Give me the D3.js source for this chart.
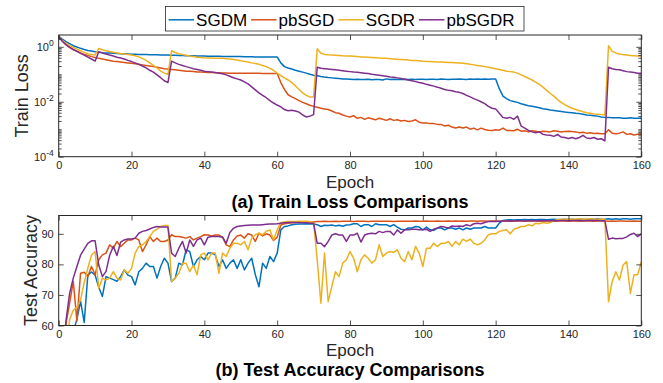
<!DOCTYPE html>
<html>
<head>
<meta charset="utf-8">
<script src="https://cdn.jsdelivr.net/npm/d3@7"></script>
<style>
  body { margin: 0; background: #fff; }
  text { font-family: "Liberation Sans", Arial, Helvetica, sans-serif; }
</style>
</head>
<body>
<svg id="svg1" width="663" height="383"></svg>
<script>
// ---- data ----
var epochs = d3.range(0, 161);
var seriesNames = ['SGDM', 'pbSGD', 'SGDR', 'pbSGDR'];
var seriesColors = ['#0072BD', '#D95319', '#EDB120', '#7E2F8E'];
var epochTicks = [0, 20, 40, 60, 80, 100, 120, 140, 160];
var lossTicks = [1e-4, 1e-2, 1];
var accTicks = [60, 70, 80, 90];

var lossSGDM = [
  2.4, 1.9, 1.55, 1.3, 1.1, 0.98, 0.88, 0.8, 0.74, 0.7,
  0.66, 0.63, 0.61, 0.6, 0.59, 0.58, 0.57, 0.56, 0.55, 0.545,
  0.54, 0.535, 0.53, 0.525, 0.52, 0.515, 0.51, 0.51, 0.505, 0.5,
  0.5, 0.495, 0.49, 0.485, 0.48, 0.475, 0.47, 0.47, 0.465, 0.46,
  0.46, 0.455, 0.455, 0.45, 0.45, 0.445, 0.445, 0.44, 0.44, 0.44,
  0.44, 0.435, 0.435, 0.435, 0.43, 0.43, 0.43, 0.43, 0.43, 0.43,
  0.43, 0.26, 0.19, 0.17, 0.155, 0.14, 0.13, 0.12, 0.11, 0.1,
  0.093, 0.088, 0.083, 0.079, 0.076, 0.074, 0.072, 0.07, 0.068, 0.067,
  0.066, 0.065, 0.066, 0.064, 0.065, 0.066, 0.063, 0.064, 0.065, 0.062,
  0.068, 0.064, 0.066, 0.065, 0.065, 0.066, 0.064, 0.066, 0.065, 0.066,
  0.066, 0.065, 0.066, 0.066, 0.065, 0.067, 0.066, 0.065, 0.066, 0.066,
  0.067, 0.066, 0.065, 0.067, 0.066, 0.067, 0.066, 0.067, 0.066, 0.067,
  0.067, 0.03, 0.016, 0.013, 0.011, 0.0102, 0.0095, 0.0085, 0.0078, 0.0072,
  0.0068, 0.0064, 0.006, 0.0056, 0.0053, 0.005, 0.0048, 0.0046, 0.0044, 0.0042,
  0.0041, 0.004, 0.0038, 0.0037, 0.0035, 0.0033, 0.0032, 0.0031, 0.003, 0.0028,
  0.0027, 0.0027, 0.0026, 0.0026, 0.0026, 0.0025, 0.0025, 0.0026, 0.0025, 0.0025,
  0.0025
];
var lossPbSGD = [
  2.4, 1.6, 1.2, 0.95, 0.8, 0.7, 0.6, 0.53, 0.48, 0.44,
  0.41, 0.38, 0.36, 0.34, 0.32, 0.3, 0.29, 0.28, 0.27, 0.26,
  0.25, 0.24, 0.23, 0.22, 0.21, 0.2, 0.19, 0.18, 0.17, 0.16,
  0.155, 0.15, 0.145, 0.14, 0.135, 0.13, 0.128, 0.125, 0.122, 0.12,
  0.118, 0.116, 0.115, 0.114, 0.113, 0.112, 0.111, 0.11, 0.11, 0.11,
  0.11, 0.109, 0.109, 0.108, 0.108, 0.108, 0.107, 0.107, 0.107, 0.106,
  0.106, 0.05, 0.028, 0.018, 0.015, 0.013, 0.011, 0.0095, 0.0085, 0.0075,
  0.0068, 0.0063, 0.0058, 0.0055, 0.0052, 0.0046, 0.004, 0.0038, 0.0033, 0.003,
  0.0028, 0.0031, 0.0025, 0.0027, 0.0023, 0.0026, 0.0024, 0.0022, 0.0025, 0.0023,
  0.0021, 0.0024, 0.0021, 0.0022, 0.002, 0.0021, 0.0019, 0.002, 0.0022, 0.0018,
  0.0017, 0.0017, 0.0016, 0.0016, 0.0015, 0.0015, 0.0013, 0.0014, 0.0012, 0.0011,
  0.0012, 0.0011, 0.0012, 0.001, 0.0011, 0.00095, 0.0011, 0.00098, 0.00092, 0.0009,
  0.00095, 0.00092, 0.0011, 0.0009, 0.0009, 0.00088, 0.001, 0.00085, 0.00088, 0.0008,
  0.00088, 0.00085, 0.0008, 0.00085, 0.00083, 0.0008, 0.00088, 0.00085, 0.0008, 0.00083,
  0.00085, 0.00082, 0.0008, 0.00075, 0.00078, 0.00072, 0.00075, 0.0007, 0.00072, 0.00068,
  0.00068, 0.00095, 0.00072, 0.00068, 0.00072, 0.0008, 0.00065, 0.00068, 0.00062, 0.00066,
  0.00065
];
var lossSGDR = [
  2.4, 1.7, 1.35, 1.1, 0.95, 0.82, 0.72, 0.63, 0.56, 0.52,
  0.5, 0.87, 0.78, 0.72, 0.67, 0.63, 0.6, 0.57, 0.55, 0.52,
  0.5, 0.47, 0.43, 0.38, 0.32, 0.26, 0.21, 0.17, 0.13, 0.11,
  0.1, 0.72, 0.62, 0.56, 0.52, 0.49, 0.46, 0.44, 0.42, 0.41,
  0.4, 0.395, 0.39, 0.385, 0.38, 0.38, 0.37, 0.36, 0.345, 0.33,
  0.31, 0.295, 0.28, 0.26, 0.245, 0.23, 0.21, 0.19, 0.165, 0.14,
  0.11, 0.09, 0.074, 0.062, 0.05, 0.038, 0.028, 0.021, 0.017, 0.015,
  0.015, 0.85, 0.58, 0.53, 0.51, 0.5, 0.49, 0.48, 0.47, 0.465,
  0.46, 0.45, 0.44, 0.43, 0.425, 0.42, 0.41, 0.4, 0.39, 0.385,
  0.38, 0.37, 0.36, 0.35, 0.345, 0.34, 0.33, 0.32, 0.315, 0.31,
  0.3, 0.295, 0.29, 0.285, 0.28, 0.28, 0.275, 0.27, 0.27, 0.265,
  0.26, 0.25, 0.24, 0.23, 0.22, 0.21, 0.2, 0.19, 0.18, 0.17,
  0.16, 0.15, 0.14, 0.13, 0.125, 0.12, 0.11, 0.095, 0.083, 0.072,
  0.062, 0.052, 0.043, 0.034, 0.026, 0.02, 0.016, 0.012, 0.0095, 0.0078,
  0.0066, 0.0058, 0.0052, 0.0047, 0.0043, 0.004, 0.0038, 0.0036, 0.0035, 0.0034,
  0.0033, 1.1, 0.68, 0.6, 0.55, 0.52, 0.5, 0.48, 0.47, 0.46,
  0.46
];
var lossPbSGDR = [
  2.4, 1.6, 1.2, 0.95, 0.8, 0.68, 0.58, 0.5, 0.42, 0.36,
  0.3, 0.66, 0.6, 0.55, 0.5, 0.46, 0.42, 0.39, 0.36, 0.32,
  0.29, 0.26, 0.23, 0.2, 0.17, 0.14, 0.12, 0.095, 0.075, 0.058,
  0.05, 0.3, 0.26, 0.23, 0.21, 0.19, 0.175, 0.16, 0.15, 0.14,
  0.13, 0.125, 0.12, 0.115, 0.11, 0.105, 0.095, 0.085, 0.075, 0.068,
  0.062, 0.053, 0.045, 0.035, 0.027, 0.021, 0.017, 0.014, 0.011, 0.009,
  0.0076, 0.0065, 0.0052, 0.0047, 0.0049, 0.0046, 0.0042, 0.0033, 0.0028, 0.003,
  0.0034, 0.18, 0.165, 0.16, 0.155, 0.15, 0.145, 0.14, 0.135, 0.13,
  0.125, 0.12, 0.118, 0.114, 0.11, 0.106, 0.1, 0.096, 0.092, 0.088,
  0.084, 0.08, 0.078, 0.074, 0.07, 0.066, 0.062, 0.058, 0.054, 0.05,
  0.047, 0.043, 0.04, 0.037, 0.034, 0.031, 0.028, 0.026, 0.025, 0.023,
  0.022, 0.02, 0.017, 0.015, 0.013, 0.0115, 0.01, 0.0085, 0.0068, 0.0058,
  0.0055, 0.0038, 0.0027, 0.0025, 0.0027, 0.0023, 0.003, 0.0013, 0.0011, 0.0009,
  0.0008, 0.00075, 0.0008, 0.00065, 0.00062, 0.0006, 0.00055, 0.00065, 0.00052, 0.0005,
  0.00046, 0.0005, 0.00045, 0.0005, 0.0006, 0.00048, 0.00046, 0.0005, 0.00043, 0.00045,
  0.00038, 0.18, 0.16, 0.15, 0.145, 0.135, 0.125, 0.12, 0.115, 0.11,
  0.11
];

var accSGDM = [
  15, 30, 45, 52, 58, 62, 68, 61, 76.5, 77.5,
  76.5, 72.5, 69.5, 76, 75.5, 75, 74.5, 76, 78.2, 76.5,
  76, 73.3, 77.6, 78.7, 80.4, 79.3, 79.3, 75.5, 79.3, 82,
  80.4, 74.4, 75.5, 80.4, 79.8, 84.8, 84.2, 79.3, 81.5, 82.6,
  81.5, 83.7, 83.7, 83.1, 79.3, 81.5, 78.7, 80.4, 81.5, 78.7,
  81.5, 78.2, 80.4, 82, 76.6, 72.7, 80.4, 78.7, 82.6, 80.9,
  83.7, 91.3, 92.4, 92.6, 93, 93.1, 93.2, 93.2, 93.3, 93.2,
  93.2, 93, 92.4, 92.8, 92.7, 92.9, 92.6, 92.8, 92.5, 92.9,
  93, 93.3, 93.3, 92.4, 93, 93, 92.4, 93.3, 93, 93,
  93, 92.4, 93, 92.2, 91.5, 91.3, 91.9, 91.9, 92.4, 92.2,
  91.3, 92.2, 91.3, 91.1, 91.9, 91.9, 91.3, 91.9, 91.9, 91.5,
  91.9, 91.3, 91.9, 91.5, 91.9, 91.9, 91.9, 92.4, 91.9, 91.9,
  91.9, 93.5, 94.4, 94.5, 94.6, 94.5, 94.6, 94.6, 94.7, 94.6,
  94.7, 94.6, 94.7, 94.7, 94.6, 94.7, 94.8, 94.7, 94.7, 94.8,
  94.7, 94.8, 94.7, 94.8, 94.8, 94.7, 94.8, 94.8, 94.9, 94.8,
  94.8, 94.9, 94.8, 94.9, 94.8, 94.9, 94.9, 94.8, 94.9, 94.9,
  94.9
];
var accPbSGD = [
  25, 45, 60.5, 67.3, 74.4, 61.5, 77.1, 77.4, 76, 79.3,
  76.6, 81.5, 83.1, 83.7, 86.4, 85.3, 87.5, 85.8, 86.9, 88,
  88, 88.6, 88, 84.2, 86.4, 89.1, 87.5, 88.6, 87.5, 87.5,
  88, 89.7, 89.1, 89.1, 88.9, 88.6, 89.1, 88, 88.6, 89.1,
  89.7, 89.6, 89.3, 89.6, 89.6, 88.9, 86.4, 85.8, 88, 89.3,
  89.6, 88.6, 90, 89.6, 87.5, 90.2, 89.3, 90, 89.6, 87.8,
  88.9, 92.9, 93.3, 93.5, 93.6, 93.7, 93.8, 93.8, 93.9, 93.9,
  93.9, 94, 94, 94.1, 94, 94, 94.1, 94, 94.1, 94.1,
  94.1, 94, 94.1, 94.1, 94.1, 94, 94.1, 94.1, 94.1, 94.1,
  94.1, 94.1, 94, 94.1, 94.1, 94.1, 94.1, 94.1, 94.2, 94.1,
  94.1, 94.2, 94.1, 94.1, 94.2, 94.1, 94.1, 94.2, 94.1, 94.2,
  94.1, 94.2, 94.1, 94.2, 94.2, 94.1, 94.2, 94.2, 94.1, 94.2,
  94.2, 94.1, 94.2, 94.2, 94.1, 94.2, 94.2, 94.2, 94.1, 94.2,
  94.2, 94.2, 94.1, 94.2, 94.2, 94.2, 94.1, 94.2, 94.2, 94.2,
  94.1, 94.2, 94.2, 94.1, 94.2, 94.2, 94.2, 94.1, 94.2, 94.2,
  94.2, 94.1, 94.2, 94.1, 94.2, 94.2, 94.1, 94.1, 94.2, 94.1,
  94.1
];
var accSGDR = [
  20, 40, 52, 62, 65, 66, 68.4, 74, 78.8, 83,
  84.2, 72.2, 75.5, 74.9, 75.5, 77.6, 75.5, 74.9, 78.2, 77.1,
  78.7, 83.7, 85.9, 86.4, 87.5, 89.1, 90.8, 91.5, 92.4, 92.7,
  92.7, 74.4, 75.5, 77.1, 80.4, 80.4, 77.6, 79.8, 76.6, 83.1,
  83.7, 81.5, 83.7, 83.7, 77.1, 83.7, 82.6, 85.3, 86.9, 86.9,
  86.4, 87.5, 84.8, 88.6, 89.7, 90.2, 89.7, 90.8, 91.3, 88,
  91.3, 93.7, 93.9, 94, 94, 94, 94.1, 94.1, 94.1, 94,
  93.7, 81.5, 67.3, 83.7, 67.8, 72.7, 77.6, 76, 80.4, 81.5,
  84.2, 82, 77.6, 81.5, 83.1, 82, 80.4, 81.5, 86.4, 82.6,
  83.7, 84.2, 83.9, 84.8, 82, 80.9, 84.2, 81.5, 85.9, 83.7,
  79.3, 85.3, 85.3, 86.9, 85.9, 86.9, 86.9, 87.5, 85.9, 87.5,
  86.4, 88.3, 87.5, 88.3, 86.9, 86.4, 86.9, 88, 89.7, 90,
  90, 90.8, 91.1, 91.3, 90, 91.5, 91.9, 92.4, 92.4, 93,
  92.6, 93.5, 93.3, 93.7, 93.5, 93.7, 94.4, 94.6, 94.7, 94.8,
  94.8, 94.8, 94.8, 94.9, 94.8, 94.8, 94.9, 94.8, 94.8, 94.8,
  94.8, 67.8, 74.4, 77.6, 74.9, 79.8, 80.9, 70.5, 76.6, 76.6,
  80.9
];
var accPbSGDR = [
  30, 50, 61.5, 70.5, 75.5, 79.3, 83, 85, 86.9, 87.7,
  87.7, 79.8, 76, 77.7, 83, 85.9, 82.9, 87.3, 88, 88.3,
  88.3, 88.6, 90.2, 90.8, 91.1, 91.6, 92.1, 92.4, 92.2, 92.2,
  92.2, 83.7, 82.6, 85.3, 87.5, 83.7, 88, 85.9, 88, 88.6,
  86.4, 88.9, 89.1, 89.1, 89.1, 88.9, 86.9, 90.4, 91.8, 92.4,
  92.6, 92.7, 92.8, 92.9, 92.9, 92.9, 93, 93.1, 93.2, 93.2,
  93.3, 93.5, 93.6, 93.7, 93.7, 93.7, 93.7, 93.6, 93.6, 93.5,
  93.5, 86.9, 86.9, 85.8, 87.5, 89.6, 90, 89.6, 89.6, 87.5,
  89.6, 89.6, 90.2, 87.3, 89.6, 90, 90.2, 90, 90.8, 90.4,
  90.8, 90.8, 89.6, 91.3, 90.2, 91.3, 91.3, 91.5, 91.5, 91.3,
  91.3, 91.5, 90.8, 91.5, 91.9, 92.4, 92.2, 91.9, 92.6, 92.4,
  92.6, 92.4, 93, 92.6, 93.3, 93.5, 93.3, 93.7, 94, 94,
  94, 94.1, 94.2, 94.2, 94.3, 94.2, 94.3, 94.3, 94.2, 94.3,
  94.3, 94.3, 94.3, 94.4, 94.3, 94.3, 94.4, 94.3, 94.4, 94.4,
  94.3, 94.4, 94.4, 94.4, 94.3, 94.4, 94.4, 94.4, 94.4, 94.3,
  94.3, 88.2, 88.6, 88.4, 88.5, 88.5, 89, 89.8, 90.2, 89.1,
  90
];

var lossSeries = [lossSGDM, lossPbSGD, lossSGDR, lossPbSGDR];
var accSeries = [accSGDM, accPbSGD, accSGDR, accPbSGDR];

// ---- layout ----
var svg = d3.select('#svg1');
var axisColor = '#262626';
var font = '"Liberation Sans", Arial, Helvetica, sans-serif';

var x = d3.scaleLinear().domain([0, 160]).range([58.7, 641.3]);
var yLoss = d3.scaleLog().domain([1e-4, Math.pow(10, 0.43)]).range([156.7, 35]);
var yAcc = d3.scaleLinear().domain([60, 96]).range([325.5, 215.5]);

function styleAxis(g) {
    g.attr('font-family', font).attr('font-size', 11);
    g.select('.domain').remove();
    g.selectAll('.tick line').attr('stroke', axisColor).attr('stroke-width', 0.8);
    g.selectAll('.tick text').attr('fill', axisColor);
}

function drawPanel(y, yTicks, minorTicks, series, clipId, xLabelY, titleY, yLabel, yLabelX, title, isLog) {
    var top = y.range()[1], bottom = y.range()[0];
    var left = x.range()[0], right = x.range()[1];

    svg.append('clipPath').attr('id', clipId)
        .append('rect')
        .attr('x', left).attr('y', top)
        .attr('width', right - left).attr('height', bottom - top);

    // lines
    var line = d3.line()
        .x(function(d) { return x(d.e); })
        .y(function(d) { return y(d.v); });

    var lines = svg.append('g').attr('clip-path', 'url(#' + clipId + ')');
    series.forEach(function(vals, i) {
        lines.append('path')
            .datum(epochs.map(function(e, k) { return {e: e, v: vals[k]}; }))
            .attr('d', line)
            .attr('fill', 'none')
            .attr('stroke', seriesColors[i])
            .attr('stroke-width', 1.5)
            .attr('stroke-linejoin', 'round');
    });

    // bottom axis with labels, ticks pointing in
    svg.append('g')
        .attr('transform', 'translate(0,' + bottom + ')')
        .call(d3.axisBottom(x).tickValues(epochTicks).tickSizeInner(-5).tickSizeOuter(0).tickPadding(5))
        .call(styleAxis);
    // top axis, ticks only
    svg.append('g')
        .attr('transform', 'translate(0,' + top + ')')
        .call(d3.axisTop(x).tickValues(epochTicks).tickSizeInner(-5).tickSizeOuter(0).tickFormat(''))
        .call(styleAxis);

    // left axis
    var leftAxis = svg.append('g')
        .attr('transform', 'translate(' + left + ',0)')
        .call(d3.axisLeft(y).tickValues(yTicks).tickSizeInner(-5).tickSizeOuter(0).tickPadding(5))
        .call(styleAxis);
    // right axis, ticks only
    svg.append('g')
        .attr('transform', 'translate(' + right + ',0)')
        .call(d3.axisRight(y).tickValues(yTicks).tickSizeInner(-5).tickSizeOuter(0).tickFormat(''))
        .call(styleAxis);

    if (isLog) {
        leftAxis.selectAll('.tick text').each(function(d) {
            var t = d3.select(this);
            t.text(null);
            t.append('tspan').text('10');
            t.append('tspan').attr('dy', -5).attr('font-size', 8.5)
                .text(String(Math.round(Math.log10(d))));
        });
        svg.append('g')
            .attr('transform', 'translate(' + left + ',0)')
            .call(d3.axisLeft(y).tickValues(minorTicks).tickSizeInner(-3).tickSizeOuter(0).tickFormat(''))
            .call(styleAxis);
        svg.append('g')
            .attr('transform', 'translate(' + right + ',0)')
            .call(d3.axisRight(y).tickValues(minorTicks).tickSizeInner(-3).tickSizeOuter(0).tickFormat(''))
            .call(styleAxis);
    }

    // box
    svg.append('rect')
        .attr('x', left).attr('y', top)
        .attr('width', right - left).attr('height', bottom - top)
        .attr('fill', 'none').attr('stroke', axisColor).attr('stroke-width', 1);

    // labels
    svg.append('text')
        .attr('transform', 'translate(' + yLabelX + ',' + ((top + bottom) / 2) + ') rotate(-90)')
        .attr('text-anchor', 'middle')
        .attr('font-size', 18).attr('fill', axisColor)
        .text(yLabel);
    svg.append('text')
        .attr('x', (left + right) / 2).attr('y', xLabelY)
        .attr('text-anchor', 'middle')
        .attr('font-size', 17).attr('fill', axisColor)
        .text('Epoch');
    svg.append('text')
        .attr('x', (left + right) / 2).attr('y', titleY)
        .attr('text-anchor', 'middle')
        .attr('font-size', 18).attr('font-weight', 'bold').attr('fill', '#000')
        .text(title);
}

// minor ticks of the log axis (2..9 x 10^k, plus the odd decades)
var minorLoss = [];
for (var k = -4; k <= 0; k++) {
    for (var m = 1; m <= 9; m++) {
        var v = m * Math.pow(10, k);
        if (v > yLoss.domain()[1]) continue;
        if (m === 1 && (k % 2 === 0)) continue;
        minorLoss.push(v);
    }
}

drawPanel(yLoss, lossTicks, minorLoss, lossSeries, 'clipLoss', 187.5, 207.5,
    'Train Loss', 28.3, '(a) Train Loss Comparisons', true);
drawPanel(yAcc, accTicks, [], accSeries, 'clipAcc', 356, 376,
    'Test Accuracy', 36.5, '(b) Test Accuracy Comparisons', false);

// ---- legend ----
var legend = svg.append('g').attr('font-family', font).attr('font-size', 17);
legend.append('rect')
    .attr('x', 165.5).attr('y', 6.5).attr('width', 358.5).attr('height', 24.5)
    .attr('fill', '#fff').attr('stroke', axisColor).attr('stroke-width', 0.8);
var lx = 168.6;
seriesNames.forEach(function(name, i) {
    legend.append('line')
        .attr('x1', lx).attr('x2', lx + 25.5)
        .attr('y1', 19.8).attr('y2', 19.8)
        .attr('stroke', seriesColors[i]).attr('stroke-width', 1.5);
    var t = legend.append('text')
        .attr('x', lx + 27.5).attr('y', 25.6)
        .attr('fill', '#000')
        .text(name);
    lx += 27.5 + t.node().getComputedTextLength() + 4;
});
</script>
</body>
</html>
